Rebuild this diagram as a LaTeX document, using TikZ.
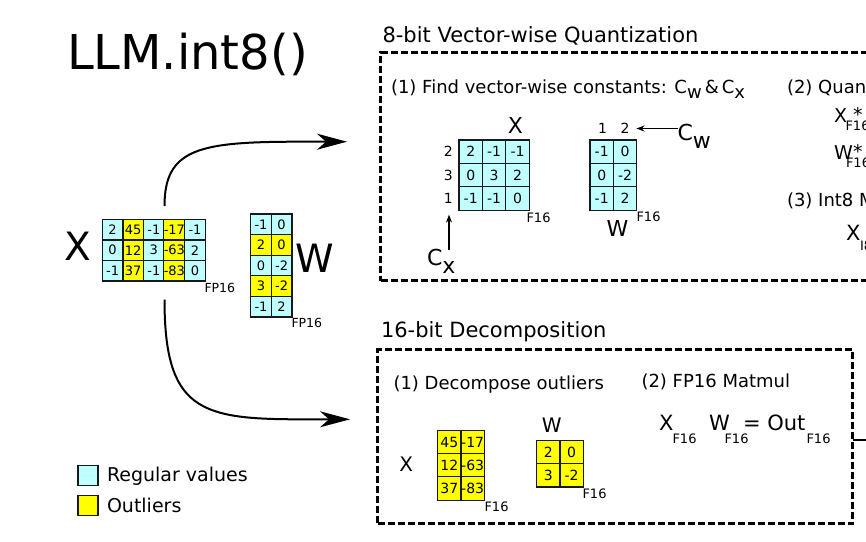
\documentclass[tikz,border=0pt]{standalone}
\usepackage{fontspec}
\setmainfont{DejaVu Sans}
\usetikzlibrary{arrows.meta}
\definecolor{regc}{HTML}{BFFFFF}
\definecolor{outc}{HTML}{FFFF00}
\newcommand\myfs[1]{\fontsize{#1}{#1}\selectfont}
\newcommand\lowered[2]{\raisebox{-#1pt}{#2}}
\begin{document}
\begin{tikzpicture}[x=1pt,y=-1pt,
  txt/.style={inner sep=0pt, outer sep=0pt},
  bigcell/.style={draw=black!90, line width=1.3pt, minimum width=20.6pt, minimum height=20.6pt, inner sep=0pt, outer sep=0pt, font=\myfs{13}},
  smallcell/.style={draw=black!90, line width=1.3pt, minimum width=23.4pt, minimum height=23.4pt, inner sep=0pt, outer sep=0pt, font=\myfs{14}},
  dbox/.style={draw, line width=3pt, dash pattern=on 7pt off 3pt, inner sep=0pt, outer sep=0pt},
  bigarrow/.style={line width=2pt, -{Stealth[length=30pt,width=16pt,inset=9pt]}},
  smallarrow/.style={line width=1.2pt, -{Stealth[length=8pt,width=6pt]}},
  legsq/.style={draw=black!90, line width=1.3pt, minimum width=20pt, minimum height=20pt, inner sep=0pt}
]
\useasboundingbox (0,0) rectangle (866,541);
\clip (0,0) rectangle (866,541);

% ---------- title ----------
\node[txt, anchor=base west, font=\myfs{48}] (title) at (67,69.5) {LLM.int8()};

% ---------- big X matrix ----------
\node[txt, font=\myfs{39}] (bigX) at (78.3,246.2) {X};
\foreach \row [count=\r] in {{2/regc,45/outc,-1/regc,-17/outc,-1/regc},{0/regc,12/outc,3/regc,-63/outc,2/regc},{-1/regc,37/outc,-1/regc,-83/outc,0/regc}} {
  \foreach \v/\col [count=\c] in \row {
    \node[bigcell, fill=\col] (bx-\r-\c) at ({102.3+20.6*(\c-0.5)},{219.3+20.6*(\r-0.5)}) {\v};
  }
}
\node[txt, anchor=west, font=\myfs{12.5}] (bxfp) at (204.5,287.5) {FP16};

% ---------- big W matrix ----------
\foreach \row [count=\r] in {{-1/regc,0/regc},{2/outc,0/outc},{0/regc,-2/regc},{3/outc,-2/outc},{-1/regc,2/regc}} {
  \foreach \v/\col [count=\c] in \row {
    \node[bigcell, fill=\col] (bw-\r-\c) at ({250.7+20.6*(\c-0.5)},{214+20.6*(\r-0.5)}) {\v};
  }
}
\node[txt, font=\myfs{39}] (bigW) at (315,258) {W};
\node[txt, anchor=west, font=\myfs{12.5}] (bwfp) at (291.5,323) {FP16};

% ---------- arrows ----------
\coordinate (xtop) at (164.5,206);
\coordinate (qin) at (347,141.7);
\coordinate (xbot) at (164.5,299.5);
\coordinate (din) at (350,419.3);
\draw[bigarrow] (xtop) .. controls (164.5,148) and (200,141.7) .. (300,141.7) -- (qin);
\draw[bigarrow] (xbot) .. controls (164.5,410) and (200,419.3) .. (300,419.3) -- (din);

% ---------- legend ----------
\node[legsq, fill=regc] (legreg) at (88,475.7) {};
\node[legsq, fill=outc] (legout) at (88,505.7) {};
\node[txt, anchor=base west, font=\myfs{19}] (legregt) at (107,481) {Regular values};
\node[txt, anchor=base west, font=\myfs{19}] (legoutt) at (107,512.7) {Outliers};

% ---------- 8-bit vector-wise quantization ----------
\node[txt, anchor=base west, font=\myfs{21}] (qhead) at (382.5,42.7) {8-bit Vector-wise Quantization};
\node[dbox, minimum width=539.5pt, minimum height=228pt] (qbox) at (650.25,166.5) {};
\node[txt, anchor=base west, font=\myfs{18}] (q1) at (391,93.5) {(1) Find vector-wise constants: C\lowered{4.5}{w}\,\&\,C\lowered{4.5}{x}};
\node[txt, anchor=base west, font=\myfs{18}] (q2) at (787,93.5) {(2) Quan};

% inner X
\node[txt, font=\myfs{22}] (qxl) at (515.5,125.5) {X};
\foreach \row [count=\r] in {{2,-1,-1},{0,3,2},{-1,-1,0}} {
  \foreach \v [count=\c] in \row {
    \node[smallcell, fill=regc] (qx-\r-\c) at ({459+23.4*(\c-0.5)},{140+23.4*(\r-0.5)}) {\v};
  }
}
\node[txt, font=\myfs{14}] (xl1) at (448.3,151.7) {2};
\node[txt, font=\myfs{14}] (xl2) at (448.3,175.1) {3};
\node[txt, font=\myfs{14}] (xl3) at (448.3,198.5) {1};
\node[txt, anchor=west, font=\myfs{13}] (qxfp) at (526.5,218) {F16};
\node[txt, anchor=base west, font=\myfs{22}] (cx) at (427,265) {C\lowered{8}{x}};
\coordinate (cxtail) at (449,250);
\draw[smallarrow, shorten >=11pt] (cxtail) -- (cxtail |- xl3.south);

% inner W
\foreach \row [count=\r] in {{-1,0},{0,-2},{-1,2}} {
  \foreach \v [count=\c] in \row {
    \node[smallcell, fill=regc] (qw-\r-\c) at ({590+23.4*(\c-0.5)},{140+23.4*(\r-0.5)}) {\v};
  }
}
\node[txt, font=\myfs{14}] (wl1) at (602.5,128.5) {1};
\node[txt, font=\myfs{14}] (wl2) at (625,128.5) {2};
\node[txt, anchor=base west, font=\myfs{22}] (cw) at (677.5,140) {C\lowered{8}{w}};
\draw[smallarrow, shorten >=7pt] (cw.west |- wl2.east) -- (wl2.east);
\node[txt, font=\myfs{22}] (qwl) at (617.5,228.5) {W};
\node[txt, anchor=west, font=\myfs{13}] (qwfp) at (636.5,217) {F16};

% right part (cut by the page edge)
\node[txt, anchor=base west, font=\myfs{19}] (qrx) at (834,122.5) {X};
\node[txt, anchor=base west, font=\myfs{19}] (qrxs) at (853,121) {*};
\node[txt, anchor=base west, font=\myfs{13}] (qrxf) at (845.5,130.5) {F16};
\node[txt, anchor=base west, font=\myfs{19}] (qrw) at (834,159.5) {W};
\node[txt, anchor=base west, font=\myfs{19}] (qrws) at (853,158) {*};
\node[txt, anchor=base west, font=\myfs{13}] (qrwf) at (846,167.5) {F16};
\node[txt, anchor=base west, font=\myfs{18}] (q3) at (787,206) {(3) Int8 M};
\node[txt, anchor=base west, font=\myfs{21}] (qrx8) at (846,240) {X};
\node[txt, anchor=base west, font=\myfs{13}] (qrx8s) at (860,250) {I8};

% ---------- 16-bit decomposition ----------
\node[txt, anchor=base west, font=\myfs{21}] (dhead) at (381,337.5) {16-bit Decomposition};
\node[dbox, minimum width=475pt, minimum height=174pt] (dbox) at (615.2,436.5) {};
\coordinate (outR) at (870,440);
\draw[line width=1.5pt] (dbox.east |- outR) -- (outR);
\node[txt, anchor=base west, font=\myfs{18}] (d1) at (393.5,389) {(1) Decompose outliers};
\node[txt, anchor=base west, font=\myfs{18}] (d2) at (641.5,387) {(2) FP16 Matmul};

\node[txt, font=\myfs{20}] (dxl) at (406.3,464.2) {X};
\foreach \row [count=\r] in {{45,-17},{12,-63},{37,-83}} {
  \foreach \v [count=\c] in \row {
    \node[smallcell, fill=outc] (dx-\r-\c) at ({437.7+23.3*(\c-0.5)},{430.7+23.1*(\r-0.5)}) {\v};
  }
}
\node[txt, anchor=west, font=\myfs{13}] (dxfp) at (484.5,506.7) {F16};

\node[txt, font=\myfs{20}] (dwl) at (551.7,425.5) {W};
\foreach \row [count=\r] in {{2,0},{3,-2}} {
  \foreach \v [count=\c] in \row {
    \node[smallcell, fill=outc] (dw-\r-\c) at ({536.7+23.3*(\c-0.5)},{440.7+23*(\r-0.5)}) {\v};
  }
}
\node[txt, anchor=west, font=\myfs{13}] (dwfp) at (582.5,493.3) {F16};

\node[txt, anchor=base west, font=\myfs{21}] (mx) at (659,430.7) {X};
\node[txt, anchor=base west, font=\myfs{13}] (mxs) at (672.5,443.3) {F16};
\node[txt, anchor=base west, font=\myfs{21}] (mw) at (709,430.7) {W};
\node[txt, anchor=base west, font=\myfs{13}] (mws) at (724.5,443.3) {F16};
\node[txt, anchor=base west, font=\myfs{21}] (mout) at (743,430.7) {= Out};
\node[txt, anchor=base west, font=\myfs{13}] (mouts) at (806.5,443.3) {F16};
\end{tikzpicture}
\end{document}
